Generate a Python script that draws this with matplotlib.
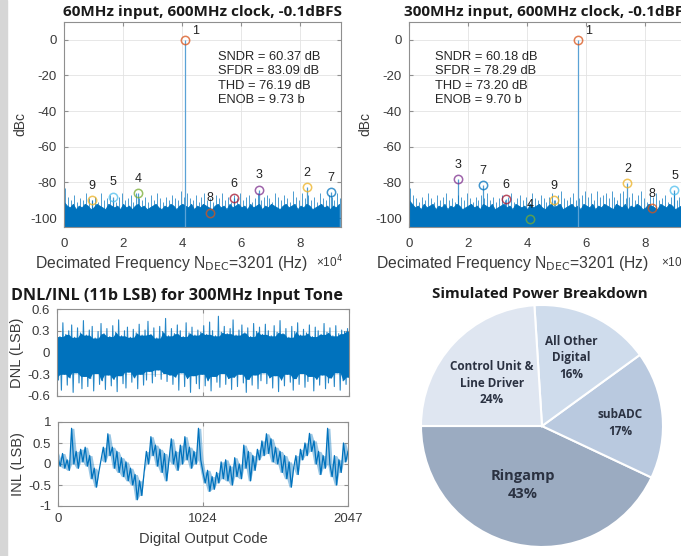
import numpy as np
import matplotlib
matplotlib.use("Agg")
import matplotlib.pyplot as plt
from matplotlib.patches import Rectangle

# ---------------- data ----------------
# FFT spectra: fundamental + harmonics (index k = 1..9), frequency in Hz, level in dBc
h60_freq = [4.10e4, 8.22e4, 6.58e4, 2.52e4, 1.66e4, 5.74e4, 9.03e4, 4.95e4, 0.94e4]
h60_db = [0, -82.5, -84, -86, -88, -89, -85.5, -97, -90]
h300_freq = [5.73e4, 7.39e4, 1.67e4, 4.10e4, 8.98e4, 3.29e4, 2.50e4, 8.22e4, 4.89e4]
h300_db = [0, -80.5, -78, -100.5, -84.5, -89.5, -81.5, -94.5, -90]

stats60 = ["SNDR = 60.37 dB", "SFDR = 83.09 dB", "THD = 76.19 dB", "ENOB = 9.73 b"]
stats300 = ["SNDR = 60.18 dB", "SFDR = 78.29 dB", "THD = 73.20 dB", "ENOB = 9.70 b"]

# noise floor (solid part) and grass tips, one value per 1 kHz bin
floor60 = [-91, -93, -94, -92, -95, -93, -94, -92, -93, -95,
           -94, -92, -93, -94, -95, -92, -93, -94, -93, -95,
           -92, -94, -93, -95, -93, -92, -94, -93, -95, -94,
           -93, -92, -94, -95, -93, -94, -92, -93, -95, -93,
           -92, -93, -94, -92, -95, -93, -94, -92, -93, -94,
           -95, -93, -92, -94, -93, -95, -92, -94, -93, -92,
           -94, -93, -95, -92, -94, -93, -92, -95, -93, -94,
           -92, -93, -94, -95, -93, -92, -94, -93, -92, -95,
           -93, -94, -92, -93, -95, -94, -93, -92, -94, -93,
           -95, -93, -94, -92]
grass60 = [-83, -88, -90, -87, -91, -89, -90, -86, -89, -90,
           -88, -91, -86, -90, -89, -87, -90, -91, -88, -86,
           -90, -89, -87, -91, -86, -89, -90, -88, -91, -87,
           -90, -86, -89, -91, -88, -90, -87, -89, -90, -85,
           -88, -86, -89, -90, -87, -91, -88, -86, -90, -89,
           -91, -87, -89, -86, -90, -88, -91, -87, -89, -86,
           -90, -88, -87, -91, -89, -86, -90, -88, -87, -89,
           -91, -86, -88, -90, -87, -89, -91, -85, -88, -90,
           -86, -89, -87, -90, -88, -91, -86, -89, -90, -87,
           -88, -90, -86, -89]
floor300 = [-90, -92, -94, -93, -95, -92, -94, -93, -92, -95,
            -93, -94, -92, -95, -93, -94, -92, -93, -95, -94,
            -93, -92, -94, -93, -95, -92, -93, -94, -92, -95,
            -94, -93, -92, -94, -93, -95, -92, -93, -94, -93,
            -95, -92, -94, -93, -92, -94, -95, -93, -92, -94,
            -93, -92, -95, -94, -93, -92, -94, -93, -95, -92,
            -93, -94, -92, -95, -93, -94, -92, -93, -94, -95,
            -92, -93, -94, -92, -95, -93, -94, -92, -93, -95,
            -94, -92, -93, -94, -95, -92, -93, -94, -92, -93,
            -95, -94, -93, -92]
grass300 = [-83, -87, -89, -91, -88, -90, -86, -89, -91, -87,
            -90, -88, -86, -90, -89, -91, -87, -88, -90, -86,
            -89, -91, -88, -90, -87, -89, -86, -90, -88, -91,
            -89, -87, -90, -88, -86, -91, -89, -87, -90, -88,
            -91, -86, -89, -90, -87, -89, -91, -88, -86, -90,
            -87, -85, -89, -90, -88, -86, -90, -89, -87, -85,
            -88, -86, -90, -85, -88, -87, -86, -89, -85, -88,
            -90, -86, -85, -89, -88, -86, -90, -87, -85, -89,
            -91, -87, -88, -86, -90, -89, -87, -91, -88, -86,
            -90, -88, -87, -89]

# DNL envelope (upper / lower), 100 segments across the code range
dnl_upper = [0.32, 0.22, 0.41, 0.25, 0.30, 0.38, 0.21, 0.34, 0.27, 0.44,
             0.24, 0.31, 0.36, 0.20, 0.29, 0.40, 0.26, 0.33, 0.22, 0.37,
             0.28, 0.45, 0.23, 0.30, 0.35, 0.21, 0.32, 0.27, 0.39, 0.24,
             0.31, 0.43, 0.25, 0.34, 0.20, 0.36, 0.29, 0.47, 0.23, 0.33,
             0.26, 0.38, 0.30, 0.22, 0.41, 0.27, 0.35, 0.24, 0.31, 0.28,
             0.37, 0.25, 0.42, 0.30, 0.23, 0.50, 0.28, 0.36, 0.26, 0.33,
             0.45, 0.24, 0.31, 0.38, 0.27, 0.34, 0.22, 0.40, 0.29, 0.35,
             0.25, 0.39, 0.30, 0.23, 0.37, 0.28, 0.44, 0.26, 0.33, 0.21,
             0.36, 0.29, 0.41, 0.24, 0.32, 0.27, 0.38, 0.22, 0.35, 0.30,
             0.25, 0.40, 0.28, 0.34, 0.23, 0.37, 0.26, 0.31, 0.29, 0.33]
dnl_lower = [-0.38, -0.52, -0.30, -0.45, -0.35, -0.55, -0.28, -0.42, -0.50, -0.33,
             -0.47, -0.36, -0.53, -0.29, -0.44, -0.39, -0.51, -0.31, -0.46, -0.37,
             -0.54, -0.32, -0.43, -0.49, -0.27, -0.41, -0.35, -0.50, -0.30, -0.45,
             -0.38, -0.26, -0.42, -0.33, -0.24, -0.37, -0.29, -0.40, -0.31, -0.44,
             -0.34, -0.52, -0.28, -0.47, -0.36, -0.55, -0.32, -0.43, -0.50, -0.30,
             -0.46, -0.39, -0.53, -0.33, -0.41, -0.48, -0.29, -0.44, -0.36, -0.51,
             -0.34, -0.47, -0.30, -0.42, -0.55, -0.37, -0.45, -0.31, -0.50, -0.39,
             -0.28, -0.43, -0.35, -0.49, -0.32, -0.54, -0.38, -0.46, -0.30, -0.41,
             -0.52, -0.36, -0.44, -0.29, -0.48, -0.40, -0.33, -0.53, -0.37, -0.45,
             -0.31, -0.50, -0.42, -0.35, -0.47, -0.28, -0.52, -0.39, -0.44, -0.34]

# INL, one value every 16 codes
inl = [0.15, -0.05, 0.25, -0.1, 0.1, -0.15,
       0.85,
       0.0, 0.3, -0.1, 0.35, 0.05, 0.4, -0.05, 0.2,
       -0.35, -0.1, -0.55, -0.2,
       0.1, 0.4, 0.05, 0.72, 0.2,
       0.4, -0.1, 0.3, -0.2, 0.15, -0.3, 0.05,
       -0.4, -0.1, -0.5, -0.25, -0.85, -0.4, -0.75,
       -0.2, 0.3, 0.0, 0.65, 0.2,
       0.45, -0.05, 0.35, -0.2, 0.25, -0.4, 0.1, 0.6,
       0.0, 0.3, -0.15, 0.45, 0.0, 0.65, 0.1,
       0.4, -0.1, 0.3, 0.0, 0.85, 0.1,
       -0.2, -0.45, -0.15, -0.65, -0.3, -0.6, -0.2,
       -0.45, 0.05, -0.35, 0.1, -0.4, -0.05, -0.5, 0.15, -0.3, 0.0,
       -0.35, 0.45, -0.1, 0.3, -0.4, 0.2, -0.15, 0.35,
       0.1, 0.55, 0.2, 0.72, 0.25, 0.6, 0.05,
       0.4, 0.0, 0.3, -0.2, 0.2, -0.35, 0.05,
       -0.55, -0.1, 0.2, -0.25, 0.35,
       0.1, 0.5, 0.2, 0.73, 0.3, 0.55, 0.0,
       0.3, -0.25, 0.2, -0.1, 0.85, 0.0,
       -0.3, 0.2, -0.5, 0.1, -0.2, 0.5, 0.05, 0.3]

# power breakdown pie
pie_labels = ["Ringamp", "subADC", "All Other\nDigital", "Control Unit &\nLine Driver"]
pie_pct = [43, 17, 16, 24]
pie_colors = ["#9babc1", "#b9c9df", "#cfdcec", "#dfe6f1"]

# ---------------- style ----------------
plt.rcParams["font.family"] = ["Liberation Sans", "DejaVu Sans"]
plt.rcParams["axes.unicode_minus"] = False
BLUE = "#0072BD"
GRID = "#e3e3e3"
EDGE = "#8f8f8f"
TXT = "#3a3a3a"
harm_colors = ["#D95319", "#EDB120", "#7E2F8E", "#77AC30", "#4DBEEE",
               "#A2142F", "#0072BD", "#D95319", "#EDB120"]
title_font = dict(family="Open Sans", weight="bold", color="#1a1a1a")

W, H = 681, 556
fig = plt.figure(figsize=(W / 100, H / 100), dpi=100)
fig.patches.append(Rectangle((0, 0), 7 / W, 1, transform=fig.transFigure,
                             color="#d6d6d6", zorder=0))


def px_axes(x0, y0, x1, y1):
    return fig.add_axes([x0 / W, 1 - y1 / H, (x1 - x0) / W, (y1 - y0) / H])


def style_axes(ax, xpad=5):
    for s in ax.spines.values():
        s.set_color(EDGE)
        s.set_linewidth(0.8)
    ax.tick_params(direction="in", length=3, color=EDGE, labelcolor=TXT,
                   labelsize=9.5, top=True, right=True, pad=5)
    ax.tick_params(axis="x", pad=xpad)
    ax.grid(True, color=GRID, lw=0.6)
    ax.set_axisbelow(True)


def spectrum(ax, floor, grass, hf, hdb, stats, stats_x, title, xlab_x):
    style_axes(ax, xpad=8)
    nyq = 9.37e4
    f = np.arange(len(floor)) * 1000.0
    ax.fill_between(f, -110, floor, color=BLUE, lw=0.6, zorder=2)
    ax.vlines(f + 500, -110, grass, color=BLUE, lw=0.7, alpha=0.7, zorder=2)
    # fundamental and spur lines
    ax.vlines(hf[0], -110, hdb[0], color="#5aa2d6", lw=0.9, zorder=2)
    ax.vlines(hf[1:], -110, hdb[1:], color=BLUE, lw=0.9, alpha=0.7, zorder=2)
    for k in range(9):
        ax.plot(hf[k], hdb[k], "o", ms=6, mfc="none", mew=1.1,
                color=harm_colors[k], alpha=0.75, zorder=3)
        if k == 0:
            ax.annotate(str(k + 1), (hf[k], hdb[k]), xytext=(5, 4),
                        textcoords="offset points", fontsize=9, color="#222222")
        else:
            ax.annotate(str(k + 1), (hf[k], hdb[k]), xytext=(0, 6),
                        textcoords="offset points", fontsize=9,
                        color="#222222", ha="center", va="bottom")
    ax.set_xlim(0, nyq)
    ax.set_ylim(-105, 10)
    ax.set_yticks([0, -20, -40, -60, -80, -100])
    ax.set_xticks([0, 2e4, 4e4, 6e4, 8e4])
    ax.set_xticklabels(["0", "2", "4", "6", "8"])
    ax.set_ylabel("dBc", fontsize=10, color=TXT, labelpad=2)
    ax.set_xlabel("Decimated Frequency N$_{\\mathrm{DEC}}$=3201 (Hz)",
                  fontsize=11.3, color=TXT)
    ax.xaxis.set_label_coords(xlab_x, -0.18)
    ax.xaxis.label.set_va("center")
    ax.text(0.91, -0.17, "\u00d710$^4$", transform=ax.transAxes, fontsize=8.5,
            color=TXT, ha="left", va="center")
    ax.text(stats_x, 0.86, "\n".join(stats), transform=ax.transAxes,
            fontsize=9.3, color="#262626", va="top", linespacing=1.27)
    ax.set_title(title, pad=4, size=11, **title_font)


# ---------------- spectra ----------------
ax1 = px_axes(64, 22, 341, 227)
spectrum(ax1, floor60, grass60, h60_freq, h60_db, stats60, 0.555,
         "60MHz input, 600MHz clock, -0.1dBFS", (172 - 64) / 277)

ax2 = px_axes(409, 22, 686, 227)
spectrum(ax2, floor300, grass300, h300_freq, h300_db, stats300, 0.095,
         "300MHz input, 600MHz clock, -0.1dBFS", (513 - 409) / 277)

# ---------------- DNL ----------------
ax3 = px_axes(57, 309, 349, 396)
style_axes(ax3)
codes_env = np.linspace(0, 2047, len(dnl_upper))
up = np.array(dnl_upper)
lo = np.array(dnl_lower)
# solid core of the noise band, spikes drawn as a zigzag on top
core_up = np.minimum(np.minimum(up, np.roll(up, 1)), np.roll(up, -1))
core_lo = np.maximum(np.maximum(lo, np.roll(lo, 1)), np.roll(lo, -1))
ax3.fill_between(codes_env, core_lo, core_up, color=BLUE, lw=0)
codes2 = np.linspace(0, 2047, 2 * len(dnl_upper))
dnl_zig = np.column_stack((dnl_upper, dnl_lower)).ravel()
ax3.plot(codes2, dnl_zig, color=BLUE, lw=0.8, alpha=0.85)
ax3.set_xlim(0, 2047)
ax3.set_ylim(-0.6, 0.6)
ax3.set_xticks([0, 1024, 2047])
ax3.set_xticklabels([])
ax3.set_yticks([-0.6, -0.3, 0, 0.3, 0.6])
ax3.set_yticklabels(["-0.6", "-0.3", "0", "0.3", "0.6"])
ax3.set_ylabel("DNL (LSB)", fontsize=10.5, color=TXT, labelpad=2)
fig.text(177 / W, 1 - 296 / H, "DNL/INL (11b LSB) for 300MHz Input Tone",
         ha="center", va="center", size=11.6, **title_font)

# ---------------- INL ----------------
ax4 = px_axes(58, 422, 348, 506)
style_axes(ax4)
codes = np.linspace(0, 2047, len(inl))
inl_arr = np.array(inl)
inl_hi = np.maximum(inl_arr, np.roll(inl_arr, 1))
inl_lo = np.minimum(inl_arr, np.roll(inl_arr, -1))
ax4.fill_between(codes, inl_lo, inl_hi, color=BLUE, lw=0, alpha=0.4)
ax4.plot(codes, inl, color=BLUE, lw=0.9)
ax4.set_xlim(0, 2047)
ax4.set_ylim(-1, 1)
ax4.set_xticks([0, 1024, 2047])
ax4.set_yticks([-1, -0.5, 0, 0.5, 1])
ax4.set_yticklabels(["-1", "-0.5", "0", "0.5", "1"])
ax4.set_ylabel("INL (LSB)", fontsize=10.5, color=TXT, labelpad=2)
ax4.set_xlabel("Digital Output Code", fontsize=10.5, color=TXT, labelpad=5)

# ---------------- pie ----------------
ax5 = px_axes(421, 305, 663, 547)
ax5.pie(pie_pct, colors=pie_colors, startangle=180, counterclock=True,
        wedgeprops=dict(edgecolor="white", linewidth=1.5))
ax5.set_xlim(-1, 1)
ax5.set_ylim(-1, 1)
label_pos = [(-0.157, -0.488), (0.645, 0.025), (0.245, 0.562), (-0.416, 0.355)]
for lab, pct, (lx, ly) in zip(pie_labels, pie_pct, label_pos):
    size = 10.5 if lab == "Ringamp" else 8.5
    ax5.text(lx, ly, f"{lab}\n{pct}%", ha="center", va="center",
             family="Open Sans", weight="bold", fontsize=size,
             color="#2b3242", linespacing=1.35)
fig.text(540 / W, 1 - 294 / H, "Simulated Power Breakdown",
         ha="center", va="center", size=10.8, **title_font)

fig.savefig("out.png", dpi=100)
